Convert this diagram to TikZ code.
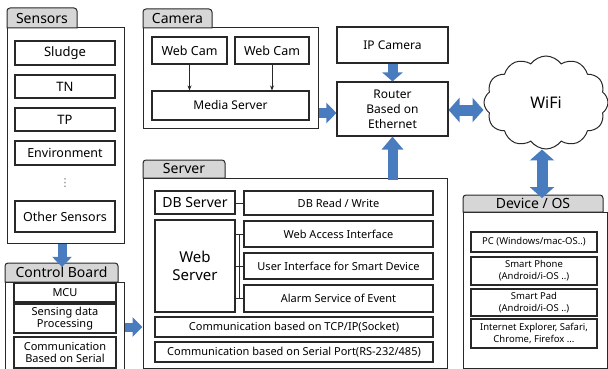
\documentclass[tikz,border=0pt]{standalone}
\usepackage{fontspec}
\setmainfont{Noto Sans}
\newfontfamily\dejavu{DejaVu Sans}
\usetikzlibrary{arrows.meta,shapes.symbols}
\definecolor{arrblue}{RGB}{72,124,190}
\definecolor{tabgray}{RGB}{214,214,214}
\definecolor{edge}{RGB}{40,40,40}
\tikzset{
  bx/.style={draw=edge, line width=1.1pt, inner sep=0pt, align=center, fill=white},
  outer/.style={draw=edge, line width=1pt, inner sep=0pt, fill=white},
  tabtxt/.style={inner sep=0pt, align=center},
  tabshape/.style={draw=edge, line width=1pt, fill=tabgray},
  blk/.style={draw=arrblue, line width=9pt, -{Triangle[width=19pt,length=10pt]}},
  blkd/.style={draw=arrblue, line width=11pt, {Triangle[width=24pt,length=11pt]}-{Triangle[width=24pt,length=11pt]}},
  thin/.style={draw=edge, line width=0.8pt},
  tharr/.style={draw=edge, line width=0.8pt, -{Stealth[length=5pt,width=4pt]}},
}
% box node from pixel corners: [opts]{name}{x1}{y1}{x2}{y2}{text}
\newcommand{\bxn}[7][]{%
  \pgfmathsetmacro\bxcx{(#3+#5)/2}\pgfmathsetmacro\bxcy{(#4+#6)/2}%
  \pgfmathsetmacro\bxw{#5-#3}\pgfmathsetmacro\bxh{#6-#4}%
  \node[bx,#1,minimum width=\bxw pt,minimum height=\bxh pt] (#2) at (\bxcx,\bxcy) {#7};}
\newcommand{\tabat}[4]{% x1,y1,x2,y2
  \path[tabshape] (#1,#4) [rounded corners=3pt] -- (#1,#2) -- (#3,#2) [sharp corners] -- (#3,#4) -- cycle;}
\begin{document}
\begin{tikzpicture}[x=1pt,y=-1pt]
\useasboundingbox (0,0) rectangle (608,369);

% ---------------- Sensors ----------------
\bxn[outer]{sensors}{7}{28}{124}{243}{}
\tabat{7}{8}{77}{28}
\node[tabtxt, font=\fontsize{14}{15}\selectfont] (sensorstab) at (42,18.5) {Sensors};
\begin{scope}[font=\fontsize{13}{14}\selectfont]
\bxn{sludge}{15}{41}{115}{65}{Sludge}
\bxn{tn}{15}{75}{115}{98}{TN}
\bxn{tp}{15}{108}{115}{131}{TP}
\bxn[font=\fontsize{12.5}{14}\selectfont]{env}{15}{141}{115}{165}{Environment}
\node[inner sep=0pt, text=black!55, font=\dejavu\fontsize{11}{12}\selectfont] (dots) at (65,183) {⋮};
\bxn[font=\fontsize{12.5}{14}\selectfont]{other}{15}{201}{115}{232}{Other Sensors}
\end{scope}

% ---------------- Control Board ----------------
\bxn[outer]{ctrl}{5}{282}{124}{372}{}
\tabat{5}{263}{118}{282}
\node[tabtxt, font=\fontsize{14}{15}\selectfont] (ctrltab) at (61.5,272.5) {Control Board};
\begin{scope}[font=\fontsize{11}{12.5}\selectfont]
\bxn{mcu}{14}{283}{116}{302}{MCU}
\bxn{sdp}{14}{304}{116}{333}{Sensing data\\Processing}
\bxn{cbs}{14}{337}{116}{368}{Communication\\Based on Serial}
\end{scope}

% ---------------- Camera ----------------
\bxn[outer]{camera}{143}{28}{318}{128}{}
\tabat{143}{9}{212}{28}
\node[tabtxt, font=\fontsize{14}{15}\selectfont] (cameratab) at (177.5,18.5) {Camera};
\begin{scope}[font=\fontsize{12.5}{14}\selectfont]
\bxn{wc1}{152}{37}{227}{64}{Web Cam}
\bxn{wc2}{235}{37}{309}{64}{Web Cam}
\bxn[font=\fontsize{12}{14}\selectfont]{media}{152}{91}{309}{120}{Media Server}
\end{scope}
\draw[tharr] (wc1) -- (wc1 |- media.north);
\draw[tharr] (wc2) -- (wc2 |- media.north);

% ---------------- IP camera / Router / WiFi ----------------
\bxn[font=\fontsize{12}{14}\selectfont]{ipcam}{337}{27}{448}{63}{IP Camera}
\bxn[font=\fontsize{12}{15}\selectfont]{router}{337}{82}{448}{136}{Router\\Based on\\Ethernet}
\node[cloud, cloud puffs=12, cloud puff arc=110, draw=edge, line width=1pt, fill=white,
      minimum width=124pt, minimum height=93pt, inner sep=0pt,
      font=\fontsize{16}{18}\selectfont] (wifi) at (546,102.5) {WiFi};

% ---------------- Server ----------------
\bxn[outer]{server}{143}{178}{447}{368}{}
\tabat{143}{160}{225}{178}
\node[tabtxt, font=\fontsize{14}{15}\selectfont] (servertab) at (184,169) {Server};
\bxn[font=\fontsize{14}{15}\selectfont]{dbs}{155}{191}{235}{214}{DB Server}
\bxn[font=\fontsize{15}{18}\selectfont]{webs}{155}{220}{235}{312}{Web\\Server}
\begin{scope}[font=\fontsize{11}{12}\selectfont]
\bxn{dbrw}{244}{191}{433}{215}{DB Read / Write}
\bxn{webacc}{244}{221}{433}{247}{Web Access Interface}
\bxn{ui}{244}{253}{433}{279}{User Interface for Smart Device}
\bxn{alarm}{244}{285}{433}{312}{Alarm Service of Event}
\bxn{tcp}{155}{317}{433}{337}{Communication based on TCP/IP(Socket)}
\bxn{serial}{155}{342}{433}{362}{Communication based on Serial Port(RS-232/485)}
\end{scope}
\coordinate (bus) at (239,0);
\draw[thin] (dbs.east |- dbrw.west) -- (dbrw.west);
\draw[thin] (webs.east |- webacc.west) -- (webacc.west);
\draw[thin] (webs.east |- ui.west) -- (ui.west);
\draw[thin] (webs.east |- alarm.west) -- (alarm.west);
\draw[thin] (bus |- webacc.west) -- (bus |- alarm.west);

% ---------------- Device / OS ----------------
\bxn[outer]{device}{463}{212}{607}{368}{}
\tabat{463}{195}{603}{212}
\node[tabtxt, font=\fontsize{14}{15}\selectfont] (devicetab) at (533,203.5) {Device / OS};
\begin{scope}[font=\fontsize{9.5}{12}\selectfont]
\bxn{pc}{471}{232}{597}{252}{PC (Windows/mac-OS..)}
\bxn{phone}{471}{257}{597}{285}{Smart Phone\\(Android/i-OS ..)}
\bxn{pad}{471}{289}{597}{316}{Smart Pad\\(Android/i-OS ..)}
\bxn{ie}{471}{319}{597}{348}{Internet Explorer, Safari,\\Chrome, Firefox ...}
\end{scope}

% ---------------- Block arrows ----------------
\draw[blk] ([xshift=-3.5pt]sensors.south) -- ([xshift=-3.5pt]sensors.south |- ctrltab.north);
\draw[blk] (ctrl.east) -- (ctrl.east -| server.west);
\draw[blk, line width=10pt, -{Triangle[width=20pt,length=10pt]}] ([yshift=-4pt]camera.east |- router.west) -- ([yshift=-4pt]router.west);
\draw[blk, line width=10pt, -{Triangle[width=20pt,length=9pt]}] (ipcam.south) -- (router.north);
\draw[blk, line width=10pt, -{Triangle[width=21pt,length=13pt]}] ([yshift=-2pt]router.south |- server.north) -- (router.south);
\draw[blkd] ([yshift=-1pt]router.east) -- ([yshift=-1pt]router.east -| wifi.west);
\draw[blkd] ([xshift=-4pt]wifi.south) -- ([xshift=-4pt]wifi.south |- devicetab.north);
\end{tikzpicture}
\end{document}
